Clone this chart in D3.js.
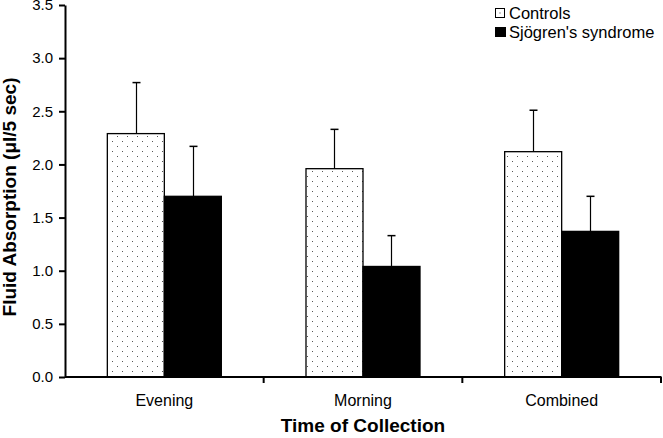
<!DOCTYPE html>
<html><head><meta charset="utf-8">
<script src="https://cdn.jsdelivr.net/npm/d3@7"></script>
<style>body{margin:0;background:#fff}svg{display:block;font-family:"Liberation Sans",Arial,sans-serif}</style>
</head><body><svg id="c" width="663" height="438"></svg>
<script>
const categories = ["Evening", "Morning", "Combined"];
const seriesNames = ["Controls", "Sjögren's syndrome"];
const controls = [2.29, 1.96, 2.12];
const controlsErr = [0.48, 0.37, 0.39];
const sjogren = [1.70, 1.04, 1.37];
const sjogrenErr = [0.47, 0.29, 0.33];
const yTicks = [0, 0.5, 1.0, 1.5, 2.0, 2.5, 3.0, 3.5];

const svg = d3.select("#c");
const m = {l: 65, r: 2, t: 5, b: 61};
const W = 663, H = 438;
const x0 = d3.scaleBand().domain(categories).range([m.l, W - m.r]);
const x1 = d3.scaleBand().domain(seriesNames).range([0, 114]);
const y = d3.scaleLinear().domain([0, 3.5]).range([H - m.b, m.t]);

const defs = svg.append("defs");
const pat = defs.append("pattern").attr("id", "dots").attr("patternUnits", "userSpaceOnUse")
  .attr("width", 10).attr("height", 10).attr("x", 2).attr("y", 1);
pat.append("rect").attr("width", 10).attr("height", 10).attr("fill", "#fff");
pat.append("rect").attr("x", 0).attr("y", 0).attr("width", 1).attr("height", 1).attr("fill", "#555");
pat.append("rect").attr("x", 5).attr("y", 5).attr("width", 1).attr("height", 1).attr("fill", "#555");

const data = [];
categories.forEach((c, i) => {
  data.push({c, s: seriesNames[0], v: controls[i], e: controlsErr[i]});
  data.push({c, s: seriesNames[1], v: sjogren[i], e: sjogrenErr[i]});
});
const bx = d => x0(d.c) + (x0.bandwidth() - 114) / 2 + x1(d.s);

// error bars
const eb = svg.append("g");
data.forEach(d => {
  const cx = Math.round(bx(d) + x1.bandwidth() / 2) + 0.5;
  eb.append("line").attr("x1", cx).attr("x2", cx).attr("y1", y(d.v)).attr("y2", y(d.v + d.e))
    .attr("stroke", "#000").attr("stroke-width", 1.2);
  eb.append("line").attr("x1", cx - 4).attr("x2", cx + 4).attr("y1", y(d.v + d.e)).attr("y2", y(d.v + d.e))
    .attr("stroke", "#000").attr("stroke-width", 1.5);
});

svg.append("g").selectAll("rect").data(data).join("rect")
  .attr("x", d => bx(d)).attr("y", d => y(d.v))
  .attr("width", x1.bandwidth()).attr("height", d => y(0) - y(d.v))
  .attr("fill", d => d.s === seriesNames[0] ? "url(#dots)" : "#000")
  .attr("stroke", "#000").attr("stroke-width", 1.3);

// y axis
const ya = svg.append("g").attr("transform", `translate(${m.l},0)`)
  .call(d3.axisLeft(y).tickValues(yTicks).tickFormat(d3.format(".1f")).tickSize(6).tickSizeOuter(0));
ya.select(".domain").attr("stroke-width", 2);
ya.selectAll(".tick line").attr("stroke-width", 2);
ya.selectAll("text").attr("font-size", 15).attr("fill", "#000").attr("x", -12)
  .attr("font-family", "Liberation Sans, Arial, sans-serif");

// x axis
const xa = svg.append("g").attr("transform", `translate(0,${y(0)})`);
xa.append("line").attr("x1", m.l).attr("x2", W - m.r + 0.5).attr("stroke", "#000").attr("stroke-width", 2);
categories.forEach(c => {
  const tx = x0(c) + x0.bandwidth();
  xa.append("line").attr("x1", tx).attr("x2", tx).attr("y1", 0).attr("y2", 6).attr("stroke", "#000").attr("stroke-width", 2);
  xa.append("text").attr("x", x0(c) + x0.bandwidth() / 2).attr("y", 29)
    .attr("text-anchor", "middle").attr("font-size", 16).text(c);
});

svg.append("text").attr("x", 363).attr("y", 432).attr("text-anchor", "middle")
  .attr("font-size", 19).attr("font-weight", "bold").text("Time of Collection");
svg.append("text").attr("transform", "translate(16,197) rotate(-90)").attr("text-anchor", "middle")
  .attr("font-size", 19).attr("font-weight", "bold").text("Fluid Absorption (μl/5 sec)");

// legend
const lg = svg.append("g");
lg.append("rect").attr("x", 495.5).attr("y", 8.5).attr("width", 9).attr("height", 9)
  .attr("fill", "#fff").attr("stroke", "#000").attr("stroke-width", 1);
lg.append("rect").attr("x", 499.5).attr("y", 12.5).attr("width", 1).attr("height", 1).attr("fill", "#333");
lg.append("rect").attr("x", 495).attr("y", 27).attr("width", 11).attr("height", 10).attr("fill", "#000");
lg.append("text").attr("x", 509).attr("y", 18.5).attr("font-size", 16.5).text(seriesNames[0]);
lg.append("text").attr("x", 509).attr("y", 37.5).attr("font-size", 16.5).text(seriesNames[1]);
</script></body></html>
